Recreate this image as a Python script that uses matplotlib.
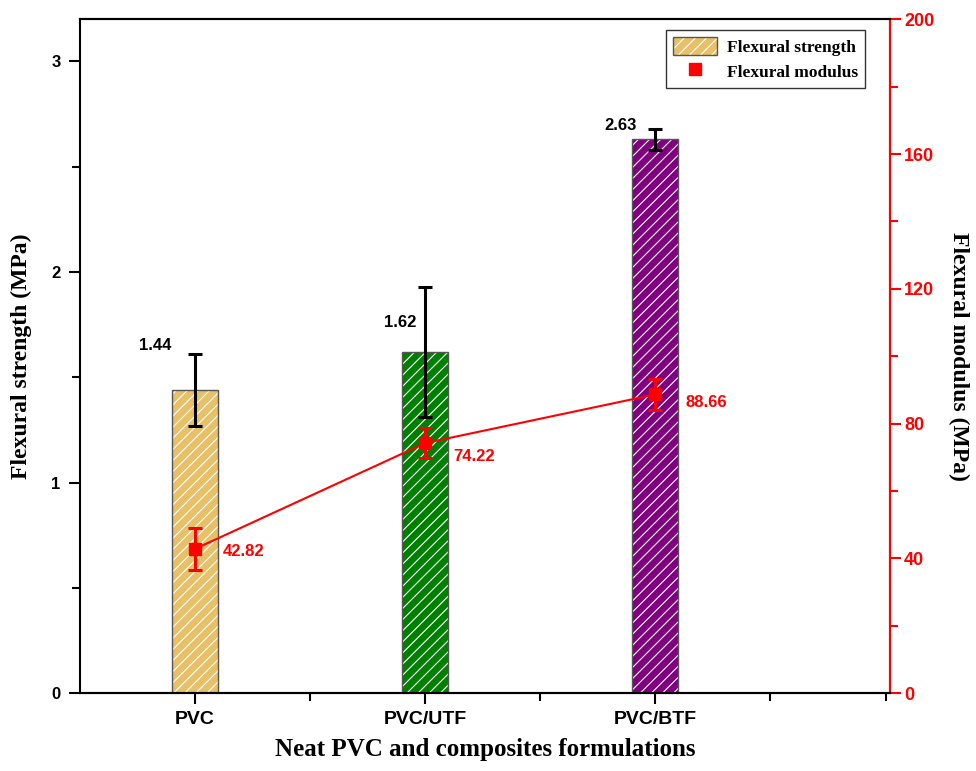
import matplotlib
matplotlib.use('Agg')
import matplotlib.pyplot as plt
from matplotlib.patches import Patch
from matplotlib.lines import Line2D
from matplotlib.legend_handler import HandlerTuple
from matplotlib.ticker import MultipleLocator, FixedLocator

# data
samples = ['PVC', 'PVC/UTF', 'PVC/BTF']
strength = [1.44, 1.62, 2.63]
strength_err = [0.17, 0.31, 0.05]
modulus = [42.82, 74.22, 88.66]
modulus_err = [6.3, 4.5, 4.5]
bar_colors = ['#E8C068', '#008000', '#800080']

sans = ['Liberation Sans', 'DejaVu Sans']
serif = ['Liberation Serif', 'DejaVu Serif']
plt.rcParams['font.family'] = sans
plt.rcParams['font.weight'] = 'bold'
plt.rcParams['hatch.linewidth'] = 0.8

fig = plt.figure(figsize=(9.76, 7.71), dpi=100)
ax = fig.add_axes([0.082, 0.101, 0.830, 0.874])
ax2 = ax.twinx()

x = [1, 2, 3]
# hatched fill (white hatch) then dark outline on top
ax.bar(x, strength, width=0.2, color=bar_colors, edgecolor='white', hatch='///', linewidth=0, zorder=2)
ax.bar(x, strength, width=0.2, color='none', edgecolor='#555555', linewidth=1.0, zorder=3)
ax.errorbar(x, strength, yerr=strength_err, fmt='none', ecolor='black', elinewidth=2.2,
            capsize=5, capthick=2.2, zorder=4)

# value labels for strength
s_off = [(-29, 32), (-18, 21), (-25, 10)]
for xi, v, off in zip(x, strength, s_off):
    ax.annotate(f'{v:.2f}', xy=(xi, v), xytext=off, textcoords='offset points',
                ha='center', va='center', fontsize=12, fontweight='bold', color='black')

ax.set_xlim(0.5, 4.02)
ax.set_ylim(0, 3.2)
ax.set_xticks(x)
ax.set_xticklabels(samples)
ax.xaxis.set_minor_locator(FixedLocator([1.5, 2.5, 3.5, 4.0]))
ax.yaxis.set_major_locator(MultipleLocator(1))
ax.yaxis.set_minor_locator(MultipleLocator(0.5))
ax.tick_params(which='major', direction='out', length=8, width=1.5, labelsize=12, pad=6)
ax.tick_params(which='minor', direction='out', length=6, width=1.5)
ax.tick_params(axis='x', labelsize=14, pad=5)
ax.set_xlabel('Neat PVC and composites formulations', fontsize=18, fontweight='bold',
              family=serif, labelpad=7)
ax.set_ylabel('Flexural strength (MPa)', fontsize=17, fontweight='bold', family=serif, labelpad=14)
for sp in ax.spines.values():
    sp.set_linewidth(1.5)

# modulus on right axis
ax2.errorbar(x, modulus, yerr=modulus_err, fmt='s-', color='red', ms=8, lw=1.5,
             ecolor='red', elinewidth=2.2, capsize=5, capthick=2.2, zorder=5)
m_off = [(20, -2), (20, -10), (22, -6)]
for xi, v, off in zip(x, modulus, m_off):
    ax2.annotate(f'{v:.2f}', xy=(xi, v), xytext=off, textcoords='offset points',
                 ha='left', va='center', fontsize=12, fontweight='bold', color='red')
ax2.set_ylim(0, 200)
ax2.yaxis.set_major_locator(MultipleLocator(40))
ax2.yaxis.set_minor_locator(MultipleLocator(20))
ax2.tick_params(which='major', direction='out', length=8, width=1.5, labelsize=13,
                colors='red', pad=2)
ax2.tick_params(which='minor', direction='out', length=6, width=1.5, colors='red')
ax2.set_ylabel('Flexural modulus (MPa)', fontsize=17, fontweight='bold', family=serif,
               rotation=270, va='bottom', labelpad=10)
for sp in ax2.spines.values():
    sp.set_linewidth(1.5)
ax2.spines['right'].set_color('red')
ax2.spines['left'].set_visible(False)

# legend
h_strength = (Patch(facecolor=bar_colors[0], edgecolor='white', hatch='///', linewidth=0),
              Patch(facecolor='none', edgecolor='#555555', linewidth=1.0))
h_modulus = Line2D([], [], marker='s', color='red', ls='none', ms=8)
leg = ax2.legend([h_strength, h_modulus], ['Flexural strength', 'Flexural modulus'],
                 handler_map={tuple: HandlerTuple(ndivide=1, pad=0)},
                 loc='upper right', bbox_to_anchor=(0.969, 0.984), borderaxespad=0,
                 fancybox=False, edgecolor='#333333', framealpha=1,
                 handlelength=2.5, handleheight=1.2,
                 borderpad=0.4, labelspacing=0.35, handletextpad=0.6,
                 prop={'family': serif, 'weight': 'bold', 'size': 12.5})
leg.get_frame().set_linewidth(1.0)

fig.savefig('out.png', dpi=100)
